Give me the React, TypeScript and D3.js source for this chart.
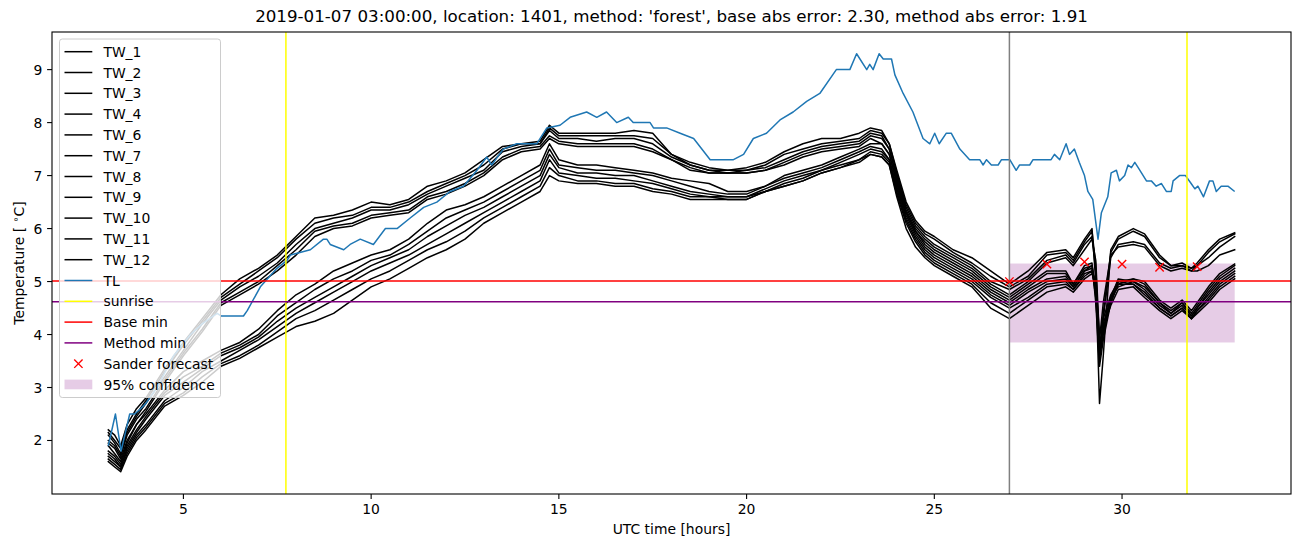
import React from 'react';
import * as d3 from 'd3';

// ---------- data ----------
const TIMES = [
  3, 3.17, 3.33, 3.5, 3.75, 4, 4.5, 5, 5.5, 6,
  6.5, 7, 7.5, 8, 8.5, 9, 9.5, 10, 10.5, 11,
  11.5, 12, 12.5, 13, 13.5, 14, 14.5, 14.75, 15, 15.5,
  16, 16.5, 17, 17.5, 18, 18.5, 19, 19.5, 20, 20.5,
  21, 21.5, 22, 22.5, 23, 23.3, 23.6, 23.8, 24, 24.25,
  24.5, 24.75, 25, 25.5, 26, 26.5, 27, 27.5, 28, 28.5,
  28.7, 29, 29.2, 29.3, 29.4, 29.5, 29.7, 29.9, 30.3, 30.6,
  31, 31.3, 31.6, 31.85, 32, 32.3, 32.6, 33,
];

const TW_1 = [
  2.2, 2.1, 1.9, 2.3, 2.6, 2.8, 3.35, 3.85, 4.3, 4.75,
  5.05, 5.25, 5.5, 5.85, 6.2, 6.25, 6.35, 6.5, 6.45, 6.55,
  6.8, 6.9, 7.05, 7.3, 7.55, 7.6, 7.65, 7.95, 7.8, 7.8,
  7.8, 7.8, 7.85, 7.8, 7.4, 7.25, 7.15, 7.1, 7.15, 7.25,
  7.45, 7.6, 7.7, 7.7, 7.8, 7.9, 7.85, 7.6, 7.1, 6.5,
  6.15, 5.95, 5.85, 5.6, 5.45, 5.2, 4.95, 5.2, 5.55, 5.6,
  5.45, 5.8, 6.0, 5.0, 2.7, 3.6, 5.6, 5.85, 6.0, 5.9,
  5.5, 5.3, 5.35, 5.25, 5.35, 5.6, 5.8, 5.92,
];
const TW_2 = [
  2.15, 2.0, 1.85, 2.2, 2.5, 2.75, 3.3, 3.8, 4.25, 4.7,
  4.95, 5.2, 5.45, 5.8, 6.1, 6.2, 6.25, 6.4, 6.4, 6.5,
  6.7, 6.85, 7.0, 7.2, 7.5, 7.6, 7.6, 7.9, 7.75, 7.75,
  7.75, 7.75, 7.75, 7.7, 7.4, 7.2, 7.1, 7.1, 7.1, 7.2,
  7.4, 7.5, 7.6, 7.65, 7.7, 7.85, 7.8, 7.6, 7.05, 6.45,
  6.1, 5.9, 5.8, 5.55, 5.35, 5.1, 4.9, 5.1, 5.5, 5.55,
  5.4, 5.75, 5.95, 5.3, 3.6, 4.4, 5.55, 5.8, 5.95, 5.85,
  5.45, 5.3, 5.3, 5.25, 5.3, 5.55, 5.75, 5.9,
];
const TW_3 = [
  2.1, 1.95, 1.75, 2.15, 2.45, 2.7, 3.2, 3.7, 4.2, 4.65,
  4.9, 5.1, 5.35, 5.7, 6.0, 6.1, 6.2, 6.35, 6.35, 6.45,
  6.65, 6.8, 6.95, 7.1, 7.45, 7.55, 7.6, 7.85, 7.7, 7.7,
  7.65, 7.7, 7.7, 7.6, 7.35, 7.2, 7.1, 7.05, 7.1, 7.15,
  7.3, 7.45, 7.55, 7.6, 7.65, 7.8, 7.75, 7.5, 7.0, 6.4,
  6.05, 5.85, 5.7, 5.5, 5.3, 5.0, 4.85, 5.05, 5.4, 5.5,
  5.35, 5.7, 5.85, 5.2, 3.5, 4.3, 5.45, 5.7, 5.75, 5.7,
  5.35, 5.25, 5.3, 5.2, 5.3, 5.45, 5.65, 5.85,
];
const TW_4 = [
  2.0, 1.9, 1.7, 2.1, 2.4, 2.6, 3.15, 3.65, 4.1, 4.6,
  4.8, 5.0, 5.3, 5.6, 5.95, 6.05, 6.1, 6.25, 6.3, 6.35,
  6.6, 6.7, 6.85, 7.05, 7.35, 7.5, 7.55, 7.75, 7.65, 7.6,
  7.6, 7.6, 7.6, 7.5, 7.3, 7.15, 7.05, 7.05, 7.05, 7.1,
  7.25, 7.4, 7.5, 7.55, 7.6, 7.75, 7.7, 7.5, 6.95, 6.35,
  6.0, 5.8, 5.65, 5.45, 5.25, 4.95, 4.75, 5.0, 5.35, 5.45,
  5.3, 5.6, 5.8, 5.4, 3.9, 4.6, 5.5, 5.65, 5.7, 5.65,
  5.3, 5.2, 5.25, 5.2, 5.2, 5.3, 5.5, 5.6,
];
const TW_6 = [
  1.95, 1.85, 1.65, 2.0, 2.3, 2.55, 3.1, 3.6, 4.05, 4.55,
  4.75, 4.95, 5.2, 5.5, 5.85, 6.0, 6.05, 6.2, 6.25, 6.3,
  6.55, 6.65, 6.8, 7.0, 7.3, 7.45, 7.5, 7.7, 7.6, 7.55,
  7.55, 7.55, 7.55, 7.45, 7.3, 7.1, 7.05, 7.05, 7.05, 7.1,
  7.2, 7.35, 7.45, 7.5, 7.55, 7.7, 7.6, 7.4, 6.9, 6.3,
  5.95, 5.75, 5.6, 5.4, 5.2, 4.9, 4.7, 4.95, 5.2, 5.2,
  4.95, 5.3, 5.35, 4.6, 3.4, 3.9, 4.6, 5.0, 5.05, 5.0,
  4.65, 4.5, 4.65, 4.45, 4.6, 4.9, 5.15, 5.33,
];
const TW_7 = [
  1.9, 1.75, 1.6, 1.95, 2.3, 2.5, 2.95, 3.3, 3.5, 3.7,
  3.85, 4.1, 4.45, 4.75, 4.95, 5.2, 5.35, 5.5, 5.6, 5.8,
  6.1, 6.35, 6.45, 6.6, 6.8, 7.0, 7.2, 7.6, 7.3, 7.2,
  7.2, 7.15, 7.1, 7.05, 6.95, 6.9, 6.85, 6.7, 6.7, 6.8,
  7.0, 7.1, 7.2, 7.35, 7.5, 7.6, 7.6, 7.4, 6.85, 6.3,
  5.95, 5.7, 5.55, 5.35, 5.15, 4.85, 4.65, 4.9, 5.15, 5.15,
  4.95, 5.25, 5.3, 4.8, 3.7, 4.1, 4.65, 4.95, 5.05, 4.95,
  4.6, 4.45, 4.6, 4.4, 4.55, 4.85, 5.1, 5.3,
];
const TW_8 = [
  1.8, 1.7, 1.55, 1.9, 2.2, 2.45, 2.9, 3.2, 3.4, 3.65,
  3.8, 4.0, 4.35, 4.6, 4.85, 5.05, 5.2, 5.4, 5.5, 5.7,
  5.95, 6.2, 6.35, 6.5, 6.7, 6.9, 7.1, 7.5, 7.2, 7.15,
  7.1, 7.1, 7.05, 7.0, 6.9, 6.8, 6.7, 6.65, 6.65, 6.8,
  6.95, 7.05, 7.15, 7.3, 7.45, 7.55, 7.5, 7.3, 6.8, 6.25,
  5.9, 5.65, 5.5, 5.3, 5.1, 4.8, 4.6, 4.85, 5.05, 5.1,
  4.9, 5.2, 5.3, 4.9, 3.8, 4.2, 4.7, 5.05, 5.0, 4.9,
  4.6, 4.4, 4.6, 4.35, 4.5, 4.8, 5.05, 5.25,
];
const TW_9 = [
  1.75, 1.65, 1.5, 1.85, 2.15, 2.4, 2.85, 3.1, 3.35, 3.6,
  3.75, 3.95, 4.25, 4.5, 4.7, 4.9, 5.1, 5.3, 5.45, 5.6,
  5.85, 6.05, 6.25, 6.4, 6.6, 6.8, 7.0, 7.4, 7.15, 7.05,
  7.05, 7.0, 7.0, 6.9, 6.8, 6.7, 6.65, 6.6, 6.6, 6.75,
  6.9, 7.0, 7.1, 7.25, 7.4, 7.5, 7.45, 7.3, 6.75, 6.2,
  5.85, 5.6, 5.45, 5.25, 5.05, 4.75, 4.55, 4.8, 5.0, 5.05,
  4.9, 5.2, 5.25, 4.7, 3.55, 4.0, 4.7, 4.9, 5.0, 4.85,
  4.55, 4.4, 4.55, 4.35, 4.5, 4.75, 5.0, 5.2,
];
const TW_10 = [
  1.7, 1.6, 1.5, 1.8, 2.1, 2.3, 2.75, 3.0, 3.3, 3.5,
  3.7, 3.9, 4.15, 4.4, 4.6, 4.8, 5.0, 5.2, 5.35, 5.5,
  5.7, 5.9, 6.1, 6.3, 6.5, 6.7, 6.9, 7.3, 7.05, 7.0,
  6.95, 6.95, 6.9, 6.85, 6.75, 6.65, 6.6, 6.6, 6.6, 6.7,
  6.85, 6.95, 7.1, 7.2, 7.3, 7.45, 7.4, 7.25, 6.7, 6.15,
  5.8, 5.55, 5.4, 5.2, 5.0, 4.7, 4.5, 4.7, 4.95, 5.0,
  4.85, 5.15, 5.2, 5.0, 4.0, 4.3, 4.75, 5.0, 4.95, 4.8,
  4.5, 4.35, 4.5, 4.3, 4.45, 4.7, 4.95, 5.15,
];
const TW_11 = [
  1.65, 1.55, 1.45, 1.75, 2.05, 2.25, 2.7, 2.9, 3.2, 3.45,
  3.6, 3.8, 4.05, 4.3, 4.45, 4.65, 4.85, 5.05, 5.2, 5.4,
  5.6, 5.75, 5.95, 6.2, 6.4, 6.6, 6.8, 7.15, 7.0, 6.9,
  6.9, 6.85, 6.85, 6.75, 6.7, 6.6, 6.6, 6.55, 6.55, 6.7,
  6.8, 6.9, 7.05, 7.15, 7.3, 7.4, 7.35, 7.2, 6.65, 6.1,
  5.75, 5.5, 5.35, 5.15, 4.95, 4.6, 4.4, 4.65, 4.9, 4.95,
  4.85, 5.1, 5.2, 4.8, 3.65, 4.05, 4.6, 4.95, 4.95, 4.75,
  4.5, 4.35, 4.5, 4.3, 4.45, 4.65, 4.9, 5.1,
];
const TW_12 = [
  1.6, 1.5, 1.41, 1.7, 2.0, 2.2, 2.65, 2.85, 3.1, 3.4,
  3.55, 3.75, 3.95, 4.15, 4.25, 4.4, 4.65, 4.9, 5.05, 5.25,
  5.45, 5.6, 5.8, 6.1, 6.3, 6.5, 6.7, 7.0, 6.9, 6.85,
  6.85, 6.8, 6.8, 6.7, 6.65, 6.55, 6.55, 6.55, 6.55, 6.7,
  6.8, 6.9, 7.05, 7.15, 7.25, 7.4, 7.35, 7.2, 6.6, 6.0,
  5.65, 5.45, 5.3, 5.1, 4.9, 4.5, 4.3, 4.55, 4.8, 4.9,
  4.8, 5.05, 5.15, 4.9, 3.75, 4.15, 4.55, 4.85, 4.9, 4.7,
  4.45, 4.3, 4.45, 4.3, 4.4, 4.6, 4.85, 5.05,
];

const TL_TIMES = [
  3.0, 3.19, 3.34, 3.57, 3.7, 3.86, 4.0, 4.3, 4.74, 5.19,
  5.5, 5.9, 6.0, 6.6, 6.7, 7.05, 7.49, 7.76, 7.85, 8.38,
  8.73, 8.82, 8.91, 9.27, 9.44, 9.71, 10.06, 10.38, 10.69, 11.04,
  11.4, 11.75, 12.1, 12.46, 12.82, 13.08, 13.21, 13.52, 13.88, 14.41,
  14.68, 15.03, 15.3, 15.74, 16.01, 16.27, 16.54, 16.85, 16.98, 17.43,
  17.52, 17.87, 18.23, 18.59, 19.03, 19.65, 19.92, 20.18, 20.53, 20.89,
  21.24, 21.6, 21.95, 22.39, 22.75, 22.93, 23.2, 23.28, 23.37, 23.53,
  23.64, 23.86, 23.95, 24.17, 24.43, 24.7, 24.88, 25.01, 25.13, 25.32,
  25.45, 25.68, 25.94, 26.21, 26.3, 26.39, 26.52, 26.7, 26.79, 27.01,
  27.18, 27.27, 27.54, 27.63, 28.11, 28.2, 28.34, 28.51, 28.6, 28.73,
  28.86, 29.0, 29.09, 29.22, 29.36, 29.45, 29.62, 29.71, 29.85, 29.93,
  30.07, 30.16, 30.25, 30.34, 30.43, 30.65, 30.78, 30.91, 31.05, 31.18,
  31.31, 31.36, 31.53, 31.69, 31.84, 31.94, 32.02, 32.17, 32.33, 32.42,
  32.51, 32.64, 32.82, 33.0,
];
const TL_VALUES = [
  1.9, 2.5, 1.8, 2.5, 2.5, 2.6, 2.7, 3.0, 3.6, 4.0,
  4.2, 4.4, 4.35, 4.35, 4.45, 4.9, 5.25, 5.4, 5.5, 5.6,
  5.8, 5.8, 5.7, 5.6, 5.7, 5.8, 5.7, 6.0, 6.0, 6.2,
  6.4, 6.5, 6.7, 6.8, 7.1, 7.35, 7.2, 7.5, 7.6, 7.6,
  7.9, 7.95, 8.1, 8.2, 8.1, 8.2, 8.0, 8.1, 8.0, 8.0,
  7.9, 7.9, 7.8, 7.7, 7.3, 7.3, 7.4, 7.7, 7.8, 8.05,
  8.2, 8.4, 8.55, 9.0, 9.0, 9.3, 9.0, 9.1, 9.0, 9.3,
  9.2, 9.2, 8.9, 8.55, 8.2, 7.7, 7.6, 7.8, 7.6, 7.8,
  7.8, 7.5, 7.3, 7.3, 7.2, 7.3, 7.2, 7.2, 7.3, 7.3,
  7.1, 7.2, 7.2, 7.3, 7.3, 7.4, 7.3, 7.6, 7.4, 7.5,
  7.25, 7.0, 6.7, 6.55, 5.8, 6.3, 6.6, 7.05, 7.1, 6.9,
  7.0, 7.2, 7.15, 7.25, 7.15, 6.9, 6.9, 6.8, 6.85, 6.7,
  6.7, 6.9, 7.0, 7.0, 6.85, 6.75, 6.8, 6.6, 6.9, 6.9,
  6.7, 6.8, 6.8, 6.7,
];

const SANDER_TIMES = [27, 28, 29, 30, 31, 32];
const SANDER_VALUES = [5.0, 5.33, 5.37, 5.33, 5.27, 5.28];

const SUNRISE_TIMES = [7.73, 31.73];
const FORECAST_TIME = 27;
const BASE_MIN = 5.01;
const METHOD_MIN = 4.62;
const CONF_TIMES = [27, 33];
const CONF_BOUNDS = [3.85, 5.34];

const X_TICKS = [5, 10, 15, 20, 25, 30];
const Y_TICKS = [2, 3, 4, 5, 6, 7, 8, 9];

const TW_LABELS = ['TW_1', 'TW_2', 'TW_3', 'TW_4', 'TW_6', 'TW_7', 'TW_8', 'TW_9', 'TW_10', 'TW_11', 'TW_12'];
const TITLE = "2019-01-07 03:00:00, location: 1401, method: 'forest', base abs error: 2.30, method abs error: 1.91";

// ---------- drawing ----------
const W = 1302;
const H = 547;
const L = 52;
const R = 1291;
const T = 32;
const B = 494;
const FONT = 'DejaVu Sans, sans-serif';
const FS = 13.9;
const BLUE = '#1f77b4';
const PURPLE = '#800080';

export default function App() {
  const x = d3.scaleLinear().domain([1.5, 34.5]).range([L, R]);
  const y = d3.scaleLinear().domain([0.99, 9.71]).range([B, T]);
  const line = d3
    .line<number>()
    .x((_, i) => 0)
    .y(() => 0);
  const path = (ts: number[], vs: number[]) =>
    d3
      .line<number>()
      .x((_, i) => x(ts[i]))
      .y((v) => y(v))(vs) as string;

  const twSeries = [TW_1, TW_2, TW_3, TW_4, TW_6, TW_7, TW_8, TW_9, TW_10, TW_11, TW_12];

  type Item = { label: string; kind: 'line' | 'marker' | 'patch'; color: string };
  const legendItems: Item[] = [
    ...TW_LABELS.map((l) => ({ label: l, kind: 'line' as const, color: 'black' })),
    { label: 'TL', kind: 'line', color: BLUE },
    { label: 'sunrise', kind: 'line', color: 'yellow' },
    { label: 'Base min', kind: 'line', color: 'red' },
    { label: 'Method min', kind: 'line', color: PURPLE },
    { label: 'Sander forecast', kind: 'marker', color: 'red' },
    { label: '95% confidence', kind: 'patch', color: PURPLE },
  ];
  const legX = 59.5;
  const legY = 39;
  const legW = 161;
  const rowH = 20.8;
  const firstRow = 51.7;
  const legH = firstRow - legY + (legendItems.length - 1) * rowH + 13;
  const ms = 4.17;

  void line;

  return (
    <svg
      width={W}
      height={H}
      style={{ position: 'absolute', left: 0, top: 0, background: 'white' }}
      fontFamily={FONT}
    >
      <rect x={0} y={0} width={W} height={H} fill="white" />
      <defs>
        <clipPath id="plotArea">
          <rect x={L} y={T} width={R - L} height={B - T} />
        </clipPath>
      </defs>
      <g clipPath="url(#plotArea)">
        <rect
          x={x(CONF_TIMES[0])}
          y={y(CONF_BOUNDS[1])}
          width={x(CONF_TIMES[1]) - x(CONF_TIMES[0])}
          height={y(CONF_BOUNDS[0]) - y(CONF_BOUNDS[1])}
          fill={PURPLE}
          fillOpacity={0.2}
        />
        {twSeries.map((s, i) => (
          <path key={i} d={path(TIMES, s)} fill="none" stroke="black" strokeWidth={1.5} strokeLinejoin="round" strokeLinecap="square" />
        ))}
        <path d={path(TL_TIMES, TL_VALUES)} fill="none" stroke={BLUE} strokeWidth={1.5} strokeLinejoin="round" />
        {SUNRISE_TIMES.map((t, i) => (
          <line key={i} x1={x(t)} x2={x(t)} y1={T} y2={B} stroke="yellow" strokeWidth={1.5} />
        ))}
        <line x1={L} x2={R} y1={y(BASE_MIN)} y2={y(BASE_MIN)} stroke="red" strokeWidth={1.5} />
        <line x1={L} x2={R} y1={y(METHOD_MIN)} y2={y(METHOD_MIN)} stroke={PURPLE} strokeWidth={1.5} />
        <line x1={x(FORECAST_TIME)} x2={x(FORECAST_TIME)} y1={T} y2={B} stroke="grey" strokeWidth={1.5} />
        {SANDER_TIMES.map((t, i) => {
          const cx = x(t);
          const cy = y(SANDER_VALUES[i]);
          return (
            <path
              key={i}
              d={`M${cx - ms},${cy - ms}L${cx + ms},${cy + ms}M${cx - ms},${cy + ms}L${cx + ms},${cy - ms}`}
              stroke="red"
              strokeWidth={1.4}
            />
          );
        })}
      </g>

      {/* spines */}
      <rect x={L} y={T} width={R - L} height={B - T} fill="none" stroke="black" strokeWidth={1.1} />

      {/* x ticks */}
      {X_TICKS.map((t) => (
        <g key={t}>
          <line x1={x(t)} x2={x(t)} y1={B} y2={B + 4.9} stroke="black" strokeWidth={1.1} />
          <text x={x(t)} y={514} textAnchor="middle" fontSize={FS} fill="black">
            {t}
          </text>
        </g>
      ))}
      {/* y ticks */}
      {Y_TICKS.map((t) => (
        <g key={t}>
          <line x1={L} x2={L - 4.9} y1={y(t)} y2={y(t)} stroke="black" strokeWidth={1.1} />
          <text x={L - 9.7} y={y(t)} dy="0.36em" textAnchor="end" fontSize={FS} fill="black">
            {t}
          </text>
        </g>
      ))}

      <text x={(L + R) / 2} y={534} textAnchor="middle" fontSize={FS} fill="black">
        UTC time [hours]
      </text>
      <text
        transform={`translate(24, ${(T + B) / 2}) rotate(-90)`}
        textAnchor="middle"
        fontSize={FS}
        fill="black"
      >
        Temperature [ <tspan fontSize={FS * 0.7} dy={-5}>∘</tspan>
        <tspan dy={5}>C]</tspan>
      </text>
      <text x={(L + R) / 2} y={22} textAnchor="middle" fontSize={16.7} fill="black">
        {TITLE}
      </text>

      {/* legend */}
      <rect
        x={legX}
        y={legY}
        width={legW}
        height={legH}
        rx={2.8}
        fill="white"
        fillOpacity={0.8}
        stroke="#cccccc"
        strokeWidth={1}
      />
      {legendItems.map((it, i) => {
        const cy = firstRow + i * rowH;
        const hx0 = 64.5;
        const hx1 = 92.3;
        let handle: React.ReactNode = null;
        if (it.kind === 'line') {
          handle = <line x1={hx0} x2={hx1} y1={cy} y2={cy} stroke={it.color} strokeWidth={1.5} />;
        } else if (it.kind === 'marker') {
          const mx = (hx0 + hx1) / 2;
          handle = (
            <path
              d={`M${mx - ms},${cy - ms}L${mx + ms},${cy + ms}M${mx - ms},${cy + ms}L${mx + ms},${cy - ms}`}
              stroke={it.color}
              strokeWidth={1.4}
            />
          );
        } else {
          handle = <rect x={hx0} y={cy - 4.9} width={hx1 - hx0} height={9.7} fill={it.color} fillOpacity={0.2} />;
        }
        return (
          <g key={it.label}>
            {handle}
            <text x={103.4} y={cy} dy="0.36em" fontSize={FS} fill="black">
              {it.label}
            </text>
          </g>
        );
      })}
    </svg>
  );
}
